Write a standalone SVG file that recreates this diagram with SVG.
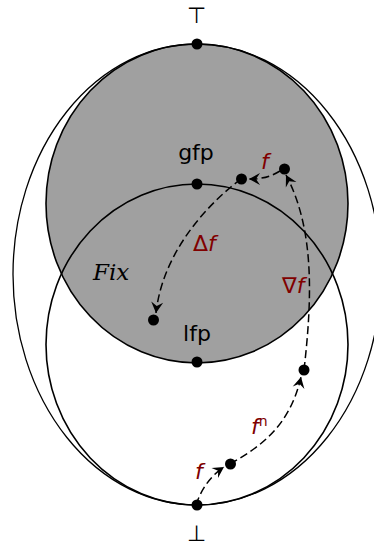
<svg xmlns="http://www.w3.org/2000/svg" width="374" height="545" viewBox="0 0 374 545">
<style>
.ln{fill:none;stroke:#000;stroke-width:1.6}
.thin{fill:none;stroke:#000;stroke-width:1.3}
.dash{fill:none;stroke:#000;stroke-width:1.5;stroke-dasharray:8,4}
.dot{fill:#000}
.lbl{font-family:"DejaVu Sans",sans-serif;font-size:22px;fill:#000;text-anchor:middle}
.red{font-family:"DejaVu Sans",sans-serif;font-size:22px;fill:#800000}
.it{font-style:oblique}
.fix{font-family:"DejaVu Serif",serif;font-style:italic;font-size:23px;fill:#000}
</style>
<defs>
<marker id="ah" viewBox="-12 -7 14 14" markerWidth="14" markerHeight="14" refX="0" refY="0" orient="auto" markerUnits="userSpaceOnUse">
<path d="M0,0 L-11,-6 L-7,0 L-11,6 Z" fill="#000"/>
</marker>
</defs>
<rect width="374" height="545" fill="#fff"/>
<g id="fix-region">
<ellipse cx="197" cy="203.5" rx="151" ry="159.5" fill="#a0a0a0" stroke="#000" stroke-width="1.6"/>
</g>
<g id="outer">
<ellipse cx="197" cy="274.5" rx="184" ry="230.5" class="thin"/>
</g>
<g id="lower">
<ellipse cx="197" cy="344.5" rx="151" ry="160.5" class="ln"/>
</g>
<g id="connectors">
<path d="M280,171 C270,177 262,179 249,179" class="dash" marker-end="url(#ah)"/>
<path d="M241,179 C200,210 162,258 156,313" class="dash" marker-end="url(#ah)"/>
<path d="M304,370 C312,300 315,230 286,175" class="dash" marker-end="url(#ah)"/>
<path d="M196,505 C201,490 210,476 224,467" class="dash" marker-end="url(#ah)"/>
<path d="M230,464 C262,446 290,425 301,377" class="dash" marker-end="url(#ah)"/>
</g>
<g id="top"><circle cx="197" cy="44" r="5.5" class="dot"/><text x="196.5" y="23" class="lbl">⊤</text></g>
<g id="gfp"><circle cx="197" cy="184" r="5.5" class="dot"/><text x="196" y="160" class="lbl">gfp</text></g>
<g id="lfp"><circle cx="197" cy="362" r="5.5" class="dot"/><text x="197" y="341" class="lbl">lfp</text></g>
<g id="bottom"><circle cx="197" cy="505" r="5.5" class="dot"/><text x="196.5" y="541" class="lbl">⊥</text></g>
<g id="p1"><circle cx="241.5" cy="179" r="5.5" class="dot"/></g>
<g id="p2"><circle cx="284.5" cy="169" r="5.5" class="dot"/></g>
<g id="p3"><circle cx="153.5" cy="320" r="5.5" class="dot"/></g>
<g id="p4"><circle cx="304" cy="370" r="5.5" class="dot"/></g>
<g id="p5"><circle cx="230.5" cy="464" r="5.5" class="dot"/></g>
<g id="labels">
<text x="93" y="280" class="fix">Fix</text>
<text x="193" y="251" class="red">Δ<tspan class="it">f</tspan></text>
<text x="282" y="293" class="red">∇<tspan class="it">f</tspan></text>
<text x="261" y="169" class="red it">f</text>
<text x="251" y="434" class="red it" font-size="20">f<tspan font-size="14" dy="-8" font-style="normal">n</tspan></text>
<text x="195" y="479" class="red it">f</text>
</g>
</svg>
